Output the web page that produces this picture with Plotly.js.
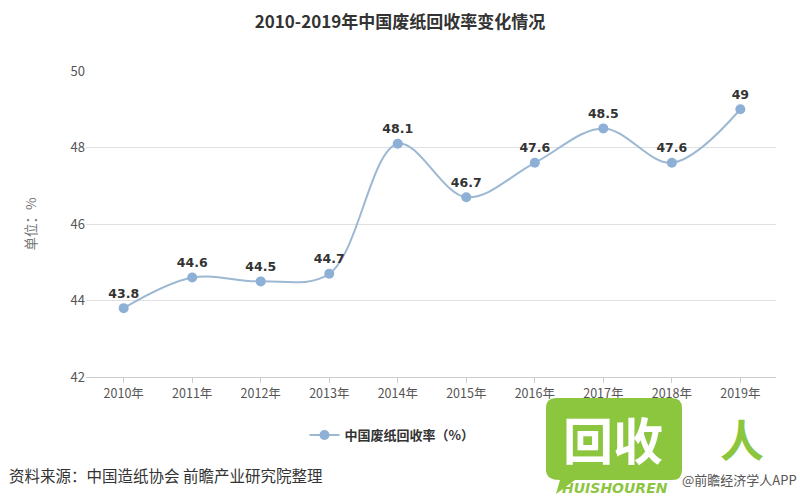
<!DOCTYPE html>
<html>
<head>
<meta charset="utf-8">
<script src="https://cdn.plot.ly/plotly-3.0.1.min.js"></script>
<style>html,body{margin:0;padding:0;background:#fff;}#chart{width:800px;height:500px;}</style>
</head>
<body>
<div id="chart"></div>
<script>
const years = ["2010年","2011年","2012年","2013年","2014年","2015年","2016年","2017年","2018年","2019年"];
const rates = [43.8, 44.6, 44.5, 44.7, 48.1, 46.7, 47.6, 48.5, 47.6, 49];
const rateLabels = ["43.8","44.6","44.5","44.7","48.1","46.7","47.6","48.5","47.6","49"];
const yTicks = [42, 44, 46, 48, 50];
const seriesName = "中国废纸回收率（%）";

const cjk = '"Noto Sans CJK SC", "Noto Sans", sans-serif';
const green = '#8cc63f';

// helpers converting page pixels to paper coords (plot area 86..776 x, 71..377 y)
const PX = p => (p - 86) / 690;
const PY = p => (377 - p) / 306;

const trace = {
  type: 'scatter',
  mode: 'lines+markers+text',
  x: years,
  y: rates,
  text: rateLabels,
  textposition: 'top center',
  textfont: {family: '"DejaVu Sans", sans-serif', size: 12.5, color: '#333', weight: 'bold'},
  name: seriesName,
  line: {shape: 'spline', smoothing: 1, color: '#9db8d2', width: 2},
  marker: {size: 10, color: '#8eb0d6'},
  cliponaxis: false,
  hoverinfo: 'skip'
};

const bubblePath = `M ${PX(556)} ${PY(398)} L ${PX(672)} ${PY(398)} Q ${PX(682)} ${PY(398)} ${PX(682)} ${PY(408)} ` +
  `L ${PX(682)} ${PY(470)} Q ${PX(682)} ${PY(480)} ${PX(672)} ${PY(480)} L ${PX(575)} ${PY(480)} ` +
  `L ${PX(556)} ${PY(494)} L ${PX(560)} ${PY(480)} Q ${PX(546)} ${PY(480)} ${PX(546)} ${PY(470)} ` +
  `L ${PX(546)} ${PY(408)} Q ${PX(546)} ${PY(398)} ${PX(556)} ${PY(398)} Z`;

const layout = {
  width: 800, height: 500,
  margin: {l: 86, r: 24, t: 71, b: 123},
  paper_bgcolor: '#fff', plot_bgcolor: '#fff',
  title: {text: '2010-2019年中国废纸回收率变化情况', x: 0.5, xanchor: 'center', y: 0.955, yanchor: 'middle',
          font: {family: cjk, size: 17, color: '#333', weight: 'bold'}},
  xaxis: {
    type: 'category', range: [-0.55, 9.52],
    showgrid: false, showline: true, linecolor: '#ccc', linewidth: 1,
    ticks: 'outside', ticklen: 5, tickcolor: '#ccc',
    tickfont: {family: cjk, size: 12.5, color: '#555'},
    zeroline: false, fixedrange: true
  },
  yaxis: {
    range: [42, 50], tickvals: yTicks, ticktext: yTicks.map(String),
    showgrid: true, gridcolor: '#e0e0e0', gridwidth: 1,
    showline: false, zeroline: false, ticks: '', ticklen: 0,
    tickfont: {family: cjk, size: 13, color: '#555'},
    title: {text: '单位：%', standoff: 30, font: {family: cjk, size: 13.5, color: '#777'}},
    fixedrange: true
  },
  showlegend: true,
  legend: {orientation: 'h', x: PX(392), xanchor: 'center', y: PY(435), yanchor: 'middle',
           font: {family: cjk, size: 13, color: '#333', weight: 'bold'}},
  shapes: [
    {type: 'path', xref: 'paper', yref: 'paper', path: bubblePath, fillcolor: green, line: {width: 0}, layer: 'above'}
  ],
  annotations: [
    {text: '资料来源：中国造纸协会 前瞻产业研究院整理', xref: 'paper', yref: 'paper',
     x: PX(7), xanchor: 'left', y: PY(475), yanchor: 'middle', showarrow: false,
     font: {family: cjk, size: 15.5, color: '#333'}},
    {text: '@前瞻经济学人APP', xref: 'paper', yref: 'paper',
     x: PX(799), xanchor: 'right', y: PY(479), yanchor: 'middle', showarrow: false,
     font: {family: cjk, size: 13, color: '#555'}},
    {text: '<b>回收</b>', xref: 'paper', yref: 'paper', x: PX(613), xanchor: 'center', y: PY(438), yanchor: 'middle',
     showarrow: false, font: {family: cjk, size: 50, color: '#fff'}},
    {text: '<b>人</b>', xref: 'paper', yref: 'paper', x: PX(742), xanchor: 'center', y: PY(438), yanchor: 'middle',
     showarrow: false, font: {family: cjk, size: 44, color: green}},
    {text: '<b><i>HUISHOUREN</i></b>', xref: 'paper', yref: 'paper', x: PX(615), xanchor: 'center', y: PY(488), yanchor: 'middle',
     showarrow: false, font: {family: '"DejaVu Sans", sans-serif', size: 14, color: green}}
  ]
};

Plotly.newPlot('chart', [trace], layout, {displayModeBar: false, staticPlot: true});
</script>
</body>
</html>
